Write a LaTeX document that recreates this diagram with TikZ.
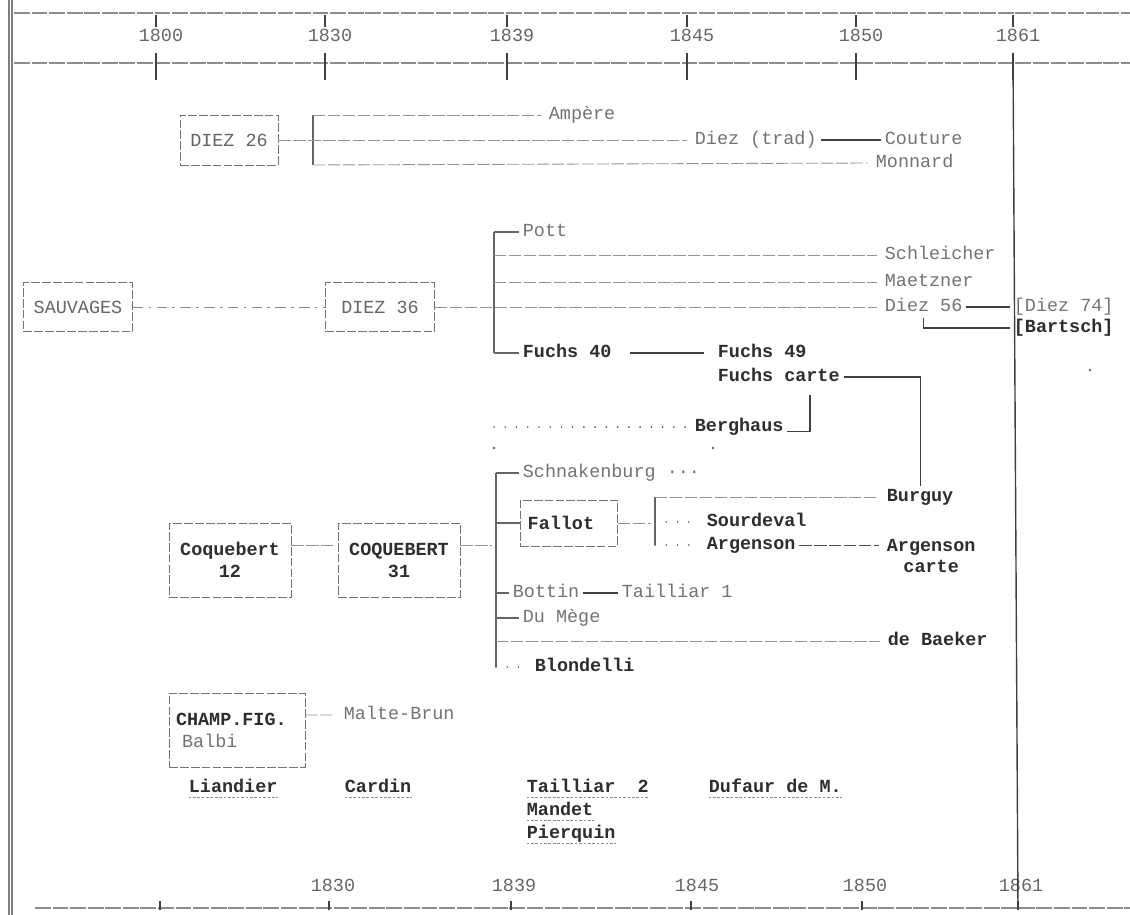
\documentclass[tikz,border=0pt]{standalone}
\usepackage{fontspec}
\setmonofont{Liberation Mono}
\usetikzlibrary{positioning,calc}

\begin{document}
\begin{tikzpicture}[
  x=0.02cm,
  y=-0.02cm,
  font=\fontsize{10.5}{12.5}\selectfont\ttfamily,
  lbl/.style={
    text=black!55,
    inner sep=2pt,
    text height=1.6ex,
    text depth=0.4ex,
    anchor=west
  },
  blbl/.style={
    lbl,
    text=black!82,
    font=\fontsize{10.5}{12.5}\selectfont\ttfamily\bfseries
  },
  box/.style={
    rectangle,
    draw=black!55,
    dash pattern=on 5pt off 1.2pt,
    line width=0.5pt,
    align=center,
    inner sep=2pt
  },
  lnk/.style={
    draw=black!42,
    line width=0.5pt,
    dash pattern=on 7pt off 1.5pt,
    shorten >=2.5pt
  },
  dlnk/.style={
    draw=black!65,
    line width=1.1pt,
    line cap=round,
    dash pattern=on 0pt off 6.4pt,
    shorten >=2.5pt
  },
  slnk/.style={
    draw=black!75,
    line width=0.6pt
  },
  brk/.style={
    draw=black!60,
    line width=0.6pt
  },
  axis/.style={
    draw=black!45,
    line width=0.9pt,
    dash pattern=on 9pt off 1pt
  },
  yr/.style={text=black!60},
  uln/.style={
    draw=black!45,
    line width=0.6pt,
    dash pattern=on 1.5pt off 1pt,
    shorten <=2pt,
    shorten >=2pt
  }
]
\useasboundingbox[fill=white] (0,0) rectangle (1130,915);
\draw[axis] (14,13) -- (1130,13);
\draw[axis] (14,63) -- (1130,63);
\draw[axis] (35,908) -- (1130,908);
\draw[black!50, line width=0.8pt] (9,0) -- (9,915);
\draw[black!50, line width=0.8pt] (12,0) -- (12,915);
\foreach \xt/\xb/\yr in {156/160/1800,325/329/1830,507/511/1839,687/691/1845,856/862/1850,1013/1018/1861}{
  \draw[slnk] (\xt,15) -- (\xt,27);
  \draw[slnk] (\xt,53) -- (\xt,80);
  \draw[slnk] (\xb,901) -- (\xb,910);
  \node[yr] (top\yr) at (\xt+5,35) {\yr};
}
\foreach \xb/\yr in {333/1830,514/1839,697/1845,865/1850,1021/1861}
  \node[yr] (bot\yr) at (\xb,885) {\yr};
\draw[black!75, line width=0.8pt] (1013,53) -- (1018,908);

\node[
  box,
  minimum width=1.96cm,
  minimum height=1cm,
  text=black!60
] (diez26) at (229,140) {DIEZ 26};
\coordinate (b26t) at (313,115);
\coordinate (b26b) at (313,165);
\node[lbl] (ampere) at (545,115) {Ampère};
\node[lbl] (dieztrad) at (691,140) {Diez (trad)};
\node[lbl] (couture) at (881,140) {Couture};
\node[lbl] (monnard) at (872,163) {Monnard};
\draw[brk] (b26t) -- (b26b);
\draw[lnk] (b26t) -- (ampere.west);
\draw[lnk] (diez26.east) -- (dieztrad.west);
\draw[slnk] (dieztrad.east) -- (couture.west);
\draw[lnk] (b26b) -- (monnard.west);

\node[
  box,
  minimum width=2.18cm,
  minimum height=0.98cm,
  text=black!60
] (sauvages) at (78,307) {SAUVAGES};
\node[
  box,
  minimum width=2.18cm,
  minimum height=0.98cm,
  text=black!60
] (diez36) at (380,307) {DIEZ 36};
\draw[
  draw=black!45,
  line width=0.5pt,
  dash pattern=on 6pt off 3pt on 1.5pt off 3pt
] (sauvages) -- (diez36);
\coordinate (b36t) at (494,232);
\coordinate (b36b) at (494,353);
\draw[brk] (b36t) -- (b36b);
\node[lbl] (pott) at (519,232) {Pott};
\node[lbl] (schleicher) at (881,255) {Schleicher};
\node[lbl] (maetzner) at (881,282) {Maetzner};
\node[lbl] (diez56) at (881,307) {Diez 56};
\node[lbl] (diez74) at (1010,307) {[Diez 74]};
\node[blbl] (bartsch) at (1010,328) {[Bartsch]};
\draw[brk] (b36t) -- (pott.west);
\draw[lnk] (b36t |- schleicher) -- (schleicher.west);
\draw[lnk] (b36t |- maetzner) -- (maetzner.west);
\draw[lnk] (diez36.east) -- (diez56.west);
\draw[slnk] (diez56.east) -- (diez74.west);
\draw[slnk] (diez56.south) |- (bartsch.west);

\node[blbl] (fuchs40) at (519,353) {Fuchs 40};
\node[blbl] (fuchs49) at (714,353) {Fuchs 49};
\node[blbl] (fcarte) at (714,377) {Fuchs carte};
\draw[brk] (b36b) -- (fuchs40.west);
\draw[slnk] ([xshift=3mm]fuchs40.east) -- ([xshift=-2mm]fuchs49.west);
\node[blbl] (berghaus) at (691,427) {Berghaus};
\coordinate (dots0) at (494,427);
\coordinate (bgc) at (810,395);
\draw[dlnk] (dots0) -- (berghaus.west);
\draw[slnk] (berghaus.base east) -| (bgc);
\fill[black!60] (494,448) circle (0.8pt) (713,448) circle (0.8pt) (1090,370) circle (0.8pt);

\node[
  box,
  minimum width=2.44cm,
  minimum height=1.48cm,
  text=black!82,
  font=\fontsize{10.5}{12.5}\selectfont\ttfamily\bfseries
] (coq12) at (230,560) {Coquebert\\12};
\node[
  box,
  minimum width=2.44cm,
  minimum height=1.48cm,
  text=black!82,
  font=\fontsize{10.5}{12.5}\selectfont\ttfamily\bfseries
] (coq31) at (399,560) {COQUEBERT\\31};
\coordinate (bcqt) at (496,473);
\coordinate (bcqb) at (496,667);
\draw[brk] (bcqt) -- (bcqb);
\draw[lnk] ([yshift=3mm]coq12.east) -- ([yshift=3mm]coq31.west);
\draw[lnk] ([yshift=3mm]coq31.east) -- ([yshift=3mm]coq31.east -| bcqt);
\node[lbl] (schnak) at (519,473) {Schnakenburg ···};
\draw[brk] (bcqt) -- (schnak.west);
\node[
  box,
  anchor=west,
  minimum height=0.92cm,
  text width=1.65cm,
  inner xsep=0.145cm,
  align=left,
  text=black!82,
  font=\fontsize{10.5}{12.5}\selectfont\ttfamily\bfseries
] (fallot) at (520,523) {Fallot};
\draw[brk] (bcqt |- fallot) -- (fallot.west);
\coordinate (bft) at (655,497);
\coordinate (bfb) at (655,545);
\draw[brk] (bft) -- (bfb);
\node[blbl] (burguy) at (883,497) {Burguy};
\node[blbl] (sourdeval) at (703,522) {Sourdeval};
\node[blbl] (argenson) at (703,545) {Argenson};
\node[blbl, align=center, text height=, text depth=] (argcarte) at (883,556) {Argenson\\carte};
\draw[lnk] (fallot.east) -- (bft |- fallot.east);
\draw[lnk] (bft) -- (burguy.west);
\draw[dlnk] (bft |- sourdeval) -- (sourdeval.west);
\draw[dlnk] (bfb) -- (argenson.west);
\draw[lnk, draw=black!70] (argenson.east) -- (argenson.east -| argcarte.west);
\draw[slnk] (fcarte.east) -| (burguy.north);

\node[lbl] (bottin) at (509,593) {Bottin};
\node[lbl] (tailliar1) at (618,593) {Tailliar 1};
\node[lbl] (dumege) at (519,618) {Du Mège};
\node[blbl] (debaeker) at (884,641) {de Baeker};
\node[blbl] (blondelli) at (531,667) {Blondelli};
\draw[brk] (bcqt |- bottin) -- (bottin.west);
\draw[slnk] (bottin.east) -- (tailliar1.west);
\draw[brk] (bcqt |- dumege) -- (dumege.west);
\draw[lnk] (bcqt |- debaeker) -- (debaeker.west);
\draw[dlnk] (bcqb) -- (blondelli.west);

\node[
  box,
  minimum height=1.48cm,
  text width=2.44cm,
  inner xsep=0.14cm,
  align=left,
  text=black!82
] (champ) at (237,730)
{\textbf{CHAMP.FIG.}\\\textcolor{black!55}{~Balbi}};
\node[lbl] (maltebrun) at (340,715) {Malte-Brun};
\draw[lnk] ([yshift=3mm]champ.east) -- (maltebrun.west);

\node[blbl] (liandier) at (185,788) {Liandier};
\node[blbl] (cardin) at (341,788) {Cardin};
\node[blbl] (tailliar2) at (523,788) {Tailliar~~2};
\node[
  blbl,
  below=0pt of tailliar2.south west,
  anchor=north west
] (mandet) {Mandet};
\node[
  blbl,
  below=0pt of mandet.south west,
  anchor=north west
] (pierquin) {Pierquin};
\node[blbl] (dufaur) at (705,788) {Dufaur de M.};
\foreach \n in {liandier,cardin,tailliar2,mandet,pierquin,dufaur}
  \draw[uln] ([yshift=-3pt]\n.base west) -- ([yshift=-3pt]\n.base east);
\end{tikzpicture}
\end{document}
